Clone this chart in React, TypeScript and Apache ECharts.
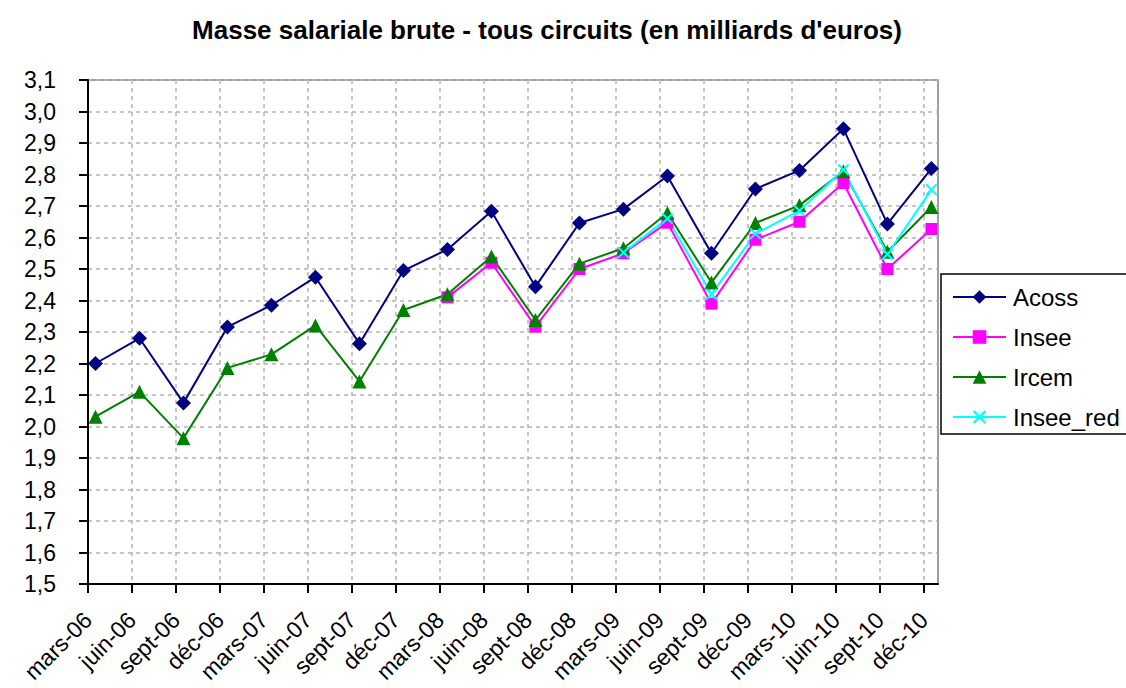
import React, { useEffect, useRef } from "react";
import * as echarts from "echarts";

const tickLabels = [
  "mars-06", "juin-06", "sept-06", "déc-06",
  "mars-07", "juin-07", "sept-07", "déc-07",
  "mars-08", "juin-08", "sept-08", "déc-08",
  "mars-09", "juin-09", "sept-09", "déc-09",
  "mars-10", "juin-10", "sept-10", "déc-10",
];

const acoss = [2.20, 2.28, 2.075, 2.316, 2.385, 2.474, 2.263, 2.495, 2.562, 2.683, 2.444, 2.646, 2.69, 2.795, 2.55, 2.754, 2.813, 2.945, 2.643, 2.819];
const insee = [null, null, null, null, null, null, null, null, 2.41, 2.52, 2.317, 2.50, 2.55, 2.647, 2.39, 2.593, 2.65, 2.773, 2.50, 2.627];
const ircem = [2.031, 2.11, 1.963, 2.186, 2.229, 2.321, 2.143, 2.37, 2.42, 2.54, 2.338, 2.517, 2.566, 2.678, 2.457, 2.646, 2.702, 2.81, 2.555, 2.697];
const inseeRed = [null, null, null, null, null, null, null, null, null, null, null, null, 2.552, 2.66, 2.42, 2.612, 2.685, 2.815, 2.547, 2.752];

const titleText = "Masse salariale brute - tous circuits (en milliards d'euros)";

const FONT = "'Liberation Sans', Arial, sans-serif";
const pointOffset = 0.17; // data dates sit a little after each quarter tick
const axisMax = 19.32;

const toPairs = (arr: (number | null)[]) =>
  arr
    .map((v, i) => (v == null ? null : [i + pointOffset, v]))
    .filter((p) => p !== null) as number[][];

const crossPath =
  "path://M0,1.2 L1.2,0 L5,3.8 L8.8,0 L10,1.2 L6.2,5 L10,8.8 L8.8,10 L5,6.2 L1.2,10 L0,8.8 L3.8,5 Z";

export default function App() {
  const ref = useRef<HTMLDivElement>(null);
  useEffect(() => {
    if (!ref.current) return;
    const chart = echarts.init(ref.current, undefined, { renderer: "svg" });
    const tickValues = tickLabels.map((_, i) => i);
    chart.setOption({
      animation: false,
      backgroundColor: "#ffffff",
      textStyle: { fontFamily: FONT },
      graphic: [
        {
          type: "text",
          x: 547,
          y: 30,
          style: {
            text: titleText,
            fontFamily: FONT,
            fontWeight: "bold",
            fontSize: 26,
            fill: "#000",
            textAlign: "center",
            textVerticalAlign: "middle",
          },
        },
      ],
      grid: {
        left: 88,
        top: 80,
        width: 850,
        height: 504,
        show: true,
        borderColor: "#808080",
        borderWidth: 1.5,
        backgroundColor: "#ffffff",
      },
      legend: {
        orient: "vertical",
        left: 941,
        top: 274,
        padding: [11, 12, 5, 11],
        itemGap: 16,
        itemWidth: 53,
        itemHeight: 17,
        borderColor: "#000",
        borderWidth: 1.5,
        backgroundColor: "#fff",
        textStyle: {
          fontSize: 24,
          color: "#000",
          fontFamily: FONT,
          padding: [0, 0, 0, 2],
        },
        data: ["Acoss", "Insee", "Ircem", "Insee_red"],
      },
      xAxis: {
        type: "value",
        min: 0,
        max: axisMax,
        interval: 1,
        axisLine: { show: true, onZero: false, lineStyle: { color: "#000", width: 2 } },
        axisTick: {
          show: true,
          length: 9,
          customValues: tickValues,
          lineStyle: { color: "#000", width: 2 },
        },
        axisLabel: {
          customValues: tickValues,
          rotate: 45,
          margin: 32,
          fontSize: 23,
          color: "#000",
          fontFamily: FONT,
          formatter: (v: number) => {
            const i = Math.round(v);
            return Math.abs(v - i) < 1e-6 && tickLabels[i] ? tickLabels[i] : "";
          },
        },
        splitLine: {
          show: true,
          lineStyle: { color: "#b4b4b4", type: [4, 4], width: 1.5 },
        },
      },
      yAxis: {
        type: "value",
        min: 1.5,
        max: 3.1,
        interval: 0.1,
        axisLine: { show: true, lineStyle: { color: "#000", width: 2 } },
        axisTick: { show: true, length: 9, lineStyle: { color: "#000", width: 2 } },
        axisLabel: {
          margin: 32,
          fontSize: 23,
          color: "#000",
          fontFamily: FONT,
          formatter: (v: number) => v.toFixed(1).replace(".", ","),
        },
        splitLine: {
          show: true,
          lineStyle: { color: "#b4b4b4", type: [4, 4], width: 1.5 },
        },
      },
      series: [
        {
          name: "Acoss",
          type: "line",
          data: toPairs(acoss),
          symbol: "diamond",
          symbolSize: 15,
          color: "#000080",
          lineStyle: { color: "#000080", width: 2 },
          itemStyle: { color: "#000080" },
        },
        {
          name: "Insee",
          type: "line",
          data: toPairs(insee),
          symbol: "rect",
          symbolSize: 12,
          color: "#ff00ff",
          lineStyle: { color: "#ff00ff", width: 2 },
          itemStyle: { color: "#ff00ff" },
        },
        {
          name: "Ircem",
          type: "line",
          data: toPairs(ircem),
          symbol: "triangle",
          symbolSize: 14,
          color: "#008000",
          lineStyle: { color: "#008000", width: 2 },
          itemStyle: { color: "#008000" },
        },
        {
          name: "Insee_red",
          type: "line",
          data: toPairs(inseeRed),
          symbol: crossPath,
          symbolSize: 12,
          color: "#00ffff",
          lineStyle: { color: "#00ffff", width: 2 },
          itemStyle: { color: "#00ffff" },
        },
      ],
    });
    return () => chart.dispose();
  }, []);
  return (
    <div
      ref={ref}
      style={{ position: "fixed", left: 0, top: 0, width: 1126, height: 688 }}
    />
  );
}
